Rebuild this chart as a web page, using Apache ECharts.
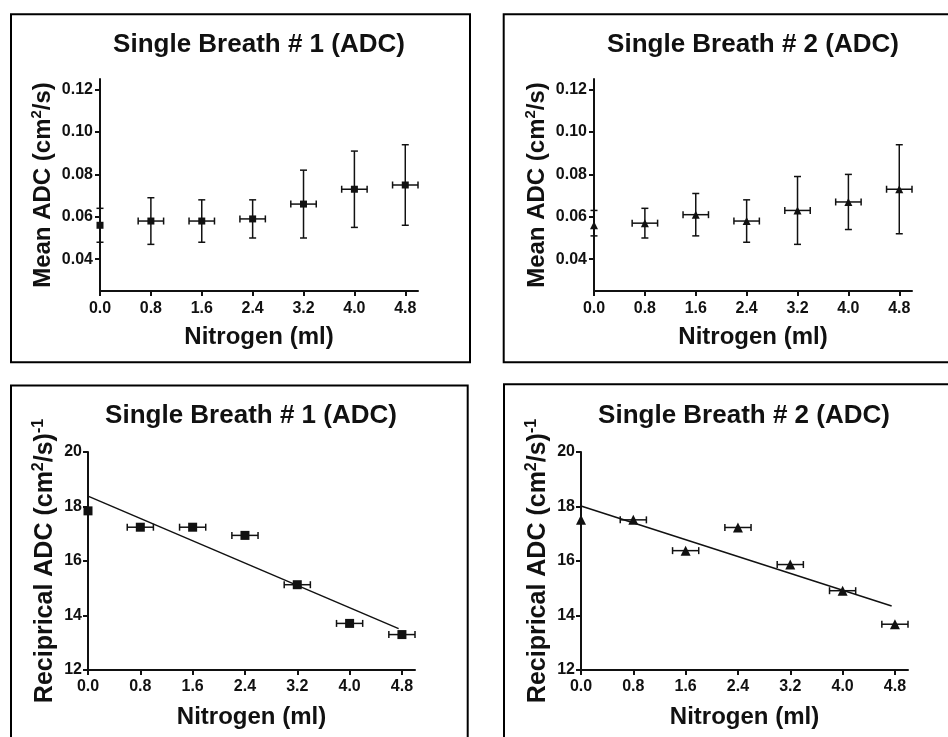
<!DOCTYPE html>
<html>
<head>
<meta charset="utf-8">
<script src="https://cdn.jsdelivr.net/npm/echarts@6/dist/echarts.min.js"></script>
<style>
html,body{margin:0;padding:0;background:#fff;}
#c{width:948px;height:737px;}
</style>
</head>
<body>
<div id="c"></div>
<script>
// ---- data ----
const nitrogen = [0.0, 0.8, 1.6, 2.4, 3.2, 4.0, 4.8];
const xTickLabels = ['0.0', '0.8', '1.6', '2.4', '3.2', '4.0', '4.8'];
const nitrogenErr = [0, 0.2, 0.2, 0.2, 0.2, 0.2, 0.2];

const adcTicks = [0.04, 0.06, 0.08, 0.10, 0.12];
const adcTickLabels = ['0.04', '0.06', '0.08', '0.10', '0.12'];
const recipTicks = [12, 14, 16, 18, 20];
const recipTickLabels = ['12', '14', '16', '18', '20'];

const sb1Mean = [0.056, 0.058, 0.058, 0.059, 0.066, 0.073, 0.075];
const sb1Upper = [0.064, 0.069, 0.068, 0.068, 0.082, 0.091, 0.094];
const sb1Lower = [0.048, 0.047, 0.048, 0.050, 0.050, 0.055, 0.056];

const sb2Mean = [0.056, 0.057, 0.061, 0.058, 0.063, 0.067, 0.073];
const sb2Upper = [0.063, 0.064, 0.071, 0.068, 0.079, 0.080, 0.094];
const sb2Lower = [0.051, 0.050, 0.051, 0.048, 0.047, 0.054, 0.052];

const sb1Recip = [17.84, 17.24, 17.24, 16.94, 15.13, 13.71, 13.30];
const sb2Recip = [17.51, 17.51, 16.38, 17.23, 15.87, 14.91, 13.68];

const sb1FitX = [0, 4.75];
const sb1FitY = [18.38, 13.52];
const sb2FitX = [0, 4.75];
const sb2FitY = [18.02, 14.35];

const titles = ['Single Breath # 1 (ADC)', 'Single Breath # 2 (ADC)', 'Single Breath # 1 (ADC)', 'Single Breath # 2 (ADC)'];

// ---- helpers ----
const FONT = '"Liberation Sans", Arial, Helvetica, sans-serif';
const INK = '#111';

function zip(xs, ys) { return xs.map((x, i) => [x, ys[i]]); }

function errRows(xs, ys, lo, hi, xe) {
  return xs.map((x, i) => [x, ys[i], lo ? lo[i] : ys[i], hi ? hi[i] : ys[i], xe[i]]);
}

function labelFrom(values, labels) {
  return function (v) {
    const idx = values.findIndex(n => Math.abs(n - v) < 1e-6);
    return idx >= 0 ? labels[idx] : '';
  };
}

function errorRender(params, api) {
  const x = api.value(0), y = api.value(1), lo = api.value(2), hi = api.value(3), xe = api.value(4);
  const c = api.coord([x, y]);
  const children = [];
  const cap = 3.5;
  const st = { stroke: INK, lineWidth: 1.5 };
  if (hi !== lo) {
    const t = api.coord([x, hi]), b = api.coord([x, lo]);
    children.push({ type: 'line', shape: { x1: c[0], y1: t[1], x2: c[0], y2: b[1] }, style: st });
    children.push({ type: 'line', shape: { x1: c[0] - cap, y1: t[1], x2: c[0] + cap, y2: t[1] }, style: st });
    children.push({ type: 'line', shape: { x1: c[0] - cap, y1: b[1], x2: c[0] + cap, y2: b[1] }, style: st });
  }
  if (xe > 0) {
    const l = api.coord([x - xe, y]), r = api.coord([x + xe, y]);
    children.push({ type: 'line', shape: { x1: l[0], y1: c[1], x2: r[0], y2: c[1] }, style: st });
    children.push({ type: 'line', shape: { x1: l[0], y1: c[1] - cap, x2: l[0], y2: c[1] + cap }, style: st });
    children.push({ type: 'line', shape: { x1: r[0], y1: c[1] - cap, x2: r[0], y2: c[1] + cap }, style: st });
  }
  return { type: 'group', children: children };
}

const grids = [
  { left: 100, top: 79, width: 318, height: 212 },
  { left: 594, top: 79, width: 318, height: 212 },
  { left: 88, top: 452, width: 327, height: 218 },
  { left: 581, top: 452, width: 327, height: 218 }
];

const lineSt = { color: INK, width: 2 };

function xAxisFor(i, labelMargin, nameGap) {
  return {
    type: 'value', gridIndex: i, min: 0, max: 5.0,
    axisLine: { show: true, onZero: false, lineStyle: lineSt },
    axisTick: { show: true, length: 5, lineStyle: lineSt, customValues: nitrogen },
    splitLine: { show: false },
    axisLabel: {
      color: INK, fontFamily: FONT, fontWeight: 'bold', fontSize: 16, margin: labelMargin,
      customValues: nitrogen,
      formatter: labelFrom(nitrogen, xTickLabels)
    },
    name: 'Nitrogen (ml)', nameLocation: 'middle', nameGap: nameGap,
    nameTextStyle: { color: INK, fontFamily: FONT, fontWeight: 'bold', fontSize: 24 }
  };
}

function richFor(size) {
  return {
    sup: { fontFamily: FONT, fontWeight: 'bold', fontSize: Math.round(size * 0.62), color: INK, verticalAlign: 'top', lineHeight: size + 4 },
    base: { fontFamily: FONT, fontWeight: 'bold', fontSize: size, color: INK, lineHeight: size + 4 }
  };
}

function yAxisFor(i, min, max, ticks, labels, name, nameGap, labelMargin, nameSize) {
  return {
    type: 'value', gridIndex: i, min: min, max: max,
    axisLine: { show: true, onZero: false, lineStyle: lineSt },
    axisTick: { show: true, length: 5, lineStyle: lineSt, customValues: ticks },
    splitLine: { show: false },
    axisLabel: {
      color: INK, fontFamily: FONT, fontWeight: 'bold', fontSize: 16, margin: labelMargin,
      customValues: ticks,
      formatter: labelFrom(ticks, labels)
    },
    name: name, nameLocation: 'middle', nameGap: nameGap, nameRotate: 90,
    nameTextStyle: { color: INK, fontFamily: FONT, fontWeight: 'bold', fontSize: nameSize, rich: richFor(nameSize) }
  };
}

const meanName = '{base|Mean ADC (cm}{sup|2}{base|/s)}';
const recipName = '{base|Reciprical ADC (cm}{sup|2}{base|/s)}{sup|-1}';

const option = {
  backgroundColor: '#ffffff',
  animation: false,
  title: [
    { text: titles[0], left: 259, top: 32, textAlign: 'center', padding: 0 },
    { text: titles[1], left: 753, top: 32, textAlign: 'center', padding: 0 },
    { text: titles[2], left: 251, top: 403, textAlign: 'center', padding: 0 },
    { text: titles[3], left: 744, top: 403, textAlign: 'center', padding: 0 }
  ].map(t => Object.assign(t, { textStyle: { color: INK, fontFamily: FONT, fontWeight: 'bold', fontSize: 26 } })),
  grid: grids,
  xAxis: [xAxisFor(0, 10, 34), xAxisFor(1, 10, 34), xAxisFor(2, 9, 35), xAxisFor(3, 9, 35)],
  yAxis: [
    yAxisFor(0, 0.025, 0.125, adcTicks, adcTickLabels, meanName, 43, 7, 24),
    yAxisFor(1, 0.025, 0.125, adcTicks, adcTickLabels, meanName, 43, 7, 24),
    yAxisFor(2, 12, 20, recipTicks, recipTickLabels, recipName, 28, 6, 25),
    yAxisFor(3, 12, 20, recipTicks, recipTickLabels, recipName, 28, 6, 25)
  ],
  graphic: [
    { type: 'rect', shape: { x: 11, y: 14.3, width: 459, height: 348 }, style: { fill: 'none', stroke: '#000', lineWidth: 2 }, silent: true },
    { type: 'rect', shape: { x: 503.7, y: 14.3, width: 460, height: 348 }, style: { fill: 'none', stroke: '#000', lineWidth: 2 }, silent: true },
    { type: 'rect', shape: { x: 11, y: 385.5, width: 456.7, height: 400 }, style: { fill: 'none', stroke: '#000', lineWidth: 2 }, silent: true },
    { type: 'rect', shape: { x: 504, y: 384.3, width: 460, height: 400 }, style: { fill: 'none', stroke: '#000', lineWidth: 2 }, silent: true }
  ],
  series: [
    { type: 'custom', xAxisIndex: 0, yAxisIndex: 0, renderItem: errorRender, clip: false, data: errRows(nitrogen, sb1Mean, sb1Lower, sb1Upper, nitrogenErr), z: 2 },
    { type: 'scatter', xAxisIndex: 0, yAxisIndex: 0, symbol: 'rect', symbolSize: 7, itemStyle: { color: INK, opacity: 1 }, data: zip(nitrogen, sb1Mean), z: 3 },

    { type: 'custom', xAxisIndex: 1, yAxisIndex: 1, renderItem: errorRender, clip: false, data: errRows(nitrogen, sb2Mean, sb2Lower, sb2Upper, nitrogenErr), z: 2 },
    { type: 'scatter', xAxisIndex: 1, yAxisIndex: 1, symbol: 'triangle', symbolSize: 8, itemStyle: { color: INK, opacity: 1 }, data: zip(nitrogen, sb2Mean), z: 3 },

    { type: 'line', xAxisIndex: 2, yAxisIndex: 2, data: zip(sb1FitX, sb1FitY), showSymbol: false, lineStyle: { color: INK, width: 1.5 }, z: 1 },
    { type: 'custom', xAxisIndex: 2, yAxisIndex: 2, renderItem: errorRender, clip: false, data: errRows(nitrogen, sb1Recip, null, null, nitrogenErr), z: 2 },
    { type: 'scatter', xAxisIndex: 2, yAxisIndex: 2, symbol: 'rect', symbolSize: 9, itemStyle: { color: INK, opacity: 1 }, data: zip(nitrogen, sb1Recip), z: 3 },

    { type: 'line', xAxisIndex: 3, yAxisIndex: 3, data: zip(sb2FitX, sb2FitY), showSymbol: false, lineStyle: { color: INK, width: 1.5 }, z: 1 },
    { type: 'custom', xAxisIndex: 3, yAxisIndex: 3, renderItem: errorRender, clip: false, data: errRows(nitrogen, sb2Recip, null, null, nitrogenErr), z: 2 },
    { type: 'scatter', xAxisIndex: 3, yAxisIndex: 3, symbol: 'triangle', symbolSize: 10, itemStyle: { color: INK, opacity: 1 }, data: zip(nitrogen, sb2Recip), z: 3 }
  ]
};

const chart = echarts.init(document.getElementById('c'), null, { renderer: 'canvas' });
chart.setOption(option);
</script>
</body>
</html>
